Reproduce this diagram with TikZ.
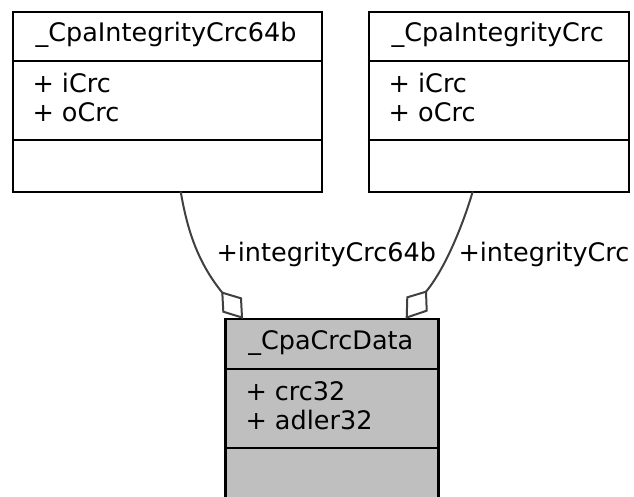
\documentclass[tikz,border=0pt]{standalone}
\usepackage{fontspec}
\setmainfont{DejaVu Sans}
\begin{document}
\begin{tikzpicture}[x=1pt,y=-1pt,
  umlbox/.style={draw=black,line width=2.2pt,inner sep=0pt,anchor=north west},
  sepline/.style={draw=black,line width=2.2pt},
  umltext/.style={inner sep=0pt,font=\fontsize{25.5}{29}\selectfont},
  assoc/.style={draw=black!75,line width=2pt},
  aggr/.style={draw=black!75,line width=2pt,fill=white,line join=miter}]
\useasboundingbox (0,0) rectangle (634,496);
\begin{scope}
\clip (0,0) rectangle (634,496);

% class boxes
\node[umlbox,minimum width=309pt,minimum height=180pt] (crc64) at (11.5,10.5) {};
\node[umlbox,minimum width=260pt,minimum height=180pt] (crc) at (367.7,10.5) {};
\node[umlbox,fill=black!25,minimum width=213pt,minimum height=190pt] (data) at (224.3,318) {};

% compartment separators
\draw[sepline] (11.5,61) -- (320.5,61) (11.5,140) -- (320.5,140);
\draw[sepline] (367.7,61) -- (627.7,61) (367.7,140) -- (627.7,140);
\draw[sepline] (224.3,369) -- (437.3,369) (224.3,448.3) -- (437.3,448.3);

% class names
\node[umltext,anchor=base] (n64) at (166,41.7) {\_CpaIntegrityCrc64b};
\node[umltext,anchor=base] (ncrc) at (497.7,41.7) {\_CpaIntegrityCrc};
\node[umltext,anchor=base] (ndata) at (330.8,349.5) {\_CpaCrcData};

% attributes
\node[umltext,anchor=base west] (a1) at (32.3,92.7) {+ iCrc};
\node[umltext,anchor=base west] (a2) at (32.3,121.7) {+ oCrc};
\node[umltext,anchor=base west] (b1) at (388.5,92.7) {+ iCrc};
\node[umltext,anchor=base west] (b2) at (388.5,121.7) {+ oCrc};
\node[umltext,anchor=base west] (c1) at (245.3,400.7) {+ crc32};
\node[umltext,anchor=base west] (c2) at (245.3,429.7) {+ adler32};

% aggregation connectors
\coordinate (s1) at (180.7,191.5);
\coordinate (e1) at (222.3,292.7);
\coordinate (s2) at (472.7,191.5);
\coordinate (e2) at (426,291.7);
\draw[assoc] (s1) .. controls (188,235) and (200,265) .. (e1);
\draw[assoc] (s2) .. controls (466,215) and (448,265) .. (e2);
\draw[aggr] (e1) -- (241,298.3) -- (242,317.5) -- (223.3,311.7) -- cycle;
\draw[aggr] (e2) -- (407.3,297.3) -- (406.7,317.5) -- (426.7,310.7) -- cycle;

% role labels
\node[umltext,anchor=base west] (l1) at (216.3,261) {+integrityCrc64b};
\node[umltext,anchor=base west] (l2) at (458.3,261) {+integrityCrc};
\end{scope}
\end{tikzpicture}
\end{document}
